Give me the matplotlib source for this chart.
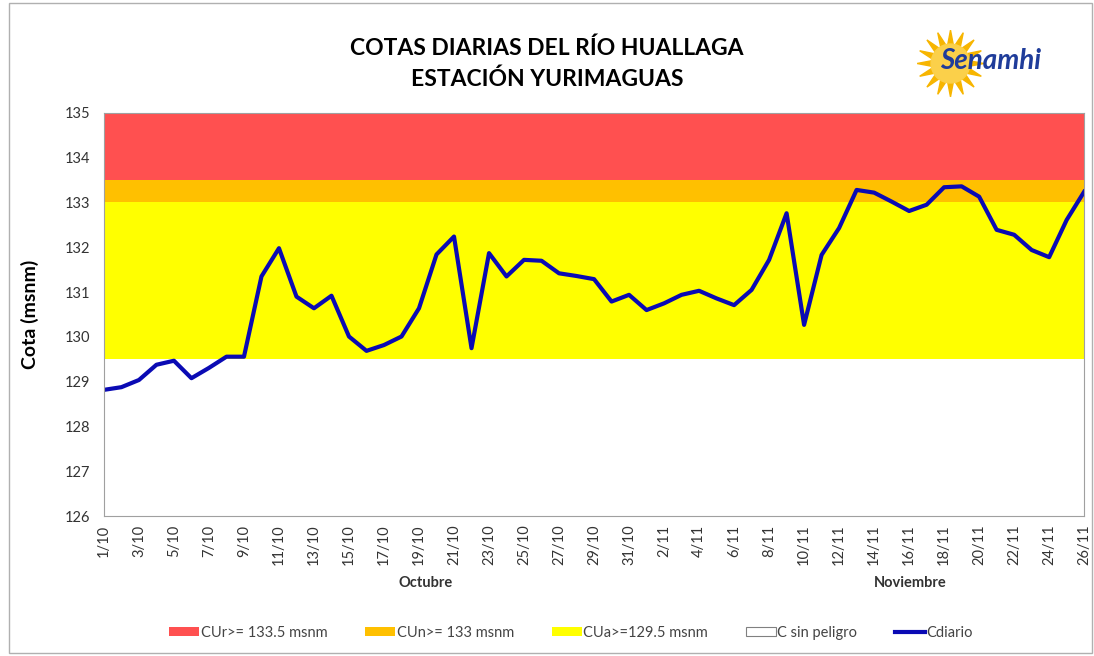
import matplotlib.pyplot as plt
from matplotlib.patches import Patch, Rectangle
from matplotlib.lines import Line2D
import numpy as np

# daily river level (msnm), 1 Oct - 26 Nov
oct_vals = [128.82, 128.88, 129.04, 129.38, 129.47, 129.08, 129.31, 129.56, 129.56, 131.35,
            131.98, 130.90, 130.64, 130.92, 130.01, 129.69, 129.82, 130.01, 130.64, 131.84,
            132.24, 129.75, 131.87, 131.35, 131.72, 131.70, 131.42, 131.36, 131.29, 130.79,
            130.94]
nov_vals = [130.60, 130.75, 130.94, 131.03, 130.86, 130.71, 131.05, 131.72, 132.76, 130.27,
            131.83, 132.43, 133.28, 133.22, 133.02, 132.81, 132.95, 133.34, 133.36, 133.13,
            132.39, 132.28, 131.94, 131.78, 132.61, 133.24]
dates = [f"{d}/10" for d in range(1, 32)] + [f"{d}/11" for d in range(1, 27)]
cota = oct_vals + nov_vals

# thresholds
cu_rojo = 133.5
cu_naranja = 133.0
cu_amarillo = 129.5

plt.rcParams['font.family'] = ['Lato', 'DejaVu Sans']

fig = plt.figure(figsize=(10.94, 6.56), dpi=100)
ax = fig.add_axes([0.095, 0.213, 0.896, 0.615])

x = np.arange(len(cota))
ax.axhspan(cu_rojo, 135, color='#FF5050', lw=0)
ax.axhspan(cu_naranja, cu_rojo, color='#FFC000', lw=0)
ax.axhspan(cu_amarillo, cu_naranja, color='#FFFF00', lw=0)
ax.plot(x, cota, color='#0A0AB4', lw=3, solid_joinstyle='round')

ax.set_ylim(126, 135)
ax.set_xlim(0, len(cota) - 1)
ax.set_yticks(np.arange(126, 136, 1))
ax.set_xticks(x[::2])
ax.set_xticklabels(dates[::2], rotation=90, fontsize=10.5, color='#333333')
ax.tick_params(axis='y', labelsize=10.5, colors='#333333', length=0, pad=10)
ax.tick_params(axis='x', length=0, pad=6)
for s in ax.spines.values():
    s.set_color('#A0A0A0')
ax.set_ylabel('Cota (msnm)', fontsize=14, fontweight='bold', labelpad=18)

fig.text(0.389, 0.105, 'Octubre', fontsize=10.5, fontweight='bold', ha='center', color='#333333')
fig.text(0.832, 0.105, 'Noviembre', fontsize=10.5, fontweight='bold', ha='center', color='#333333')

fig.text(0.5, 0.903, 'COTAS DIARIAS DEL RÍO HUALLAGA\nESTACIÓN YURIMAGUAS',
         fontsize=16.5, fontweight='bold', ha='center', va='center', linespacing=1.5)

# logo: sun + name
fig.add_artist(Line2D([0.868], [0.904], marker=(16, 1, 0), markersize=48,
                      color='#F7B500', transform=fig.transFigure))
fig.add_artist(Line2D([0.868], [0.904], marker='o', markersize=28,
                      color='#FBD04A', transform=fig.transFigure))
fig.text(0.859, 0.907, 'Senamhi', fontsize=20, fontweight='bold', style='italic',
         color='#1F3C9A', ha='left', va='center')

handles = [Patch(facecolor='#FF5050', edgecolor='none'),
           Patch(facecolor='#FFC000', edgecolor='none'),
           Patch(facecolor='#FFFF00', edgecolor='none'),
           Patch(facecolor='white', edgecolor='#808080', lw=0.8),
           Line2D([0], [0], color='#0A0AB4', lw=3)]
labels = ['CUr>= 133.5 msnm', 'CUn>= 133 msnm', 'CUa>=129.5 msnm', 'C sin peligro', 'Cdiario']
fig.legend(handles, labels, loc='center', bbox_to_anchor=(0.522, 0.035), ncol=5,
           frameon=False, fontsize=10.5, handlelength=2.05, handleheight=0.55,
           handletextpad=0.1, columnspacing=2.6, labelcolor='#444444')

fig.patches.append(Rectangle((0.008, 0.005), 0.99, 0.99, transform=fig.transFigure,
                             fill=False, edgecolor='#B0B0B0', lw=1))

fig.savefig('out.png', dpi=100)
